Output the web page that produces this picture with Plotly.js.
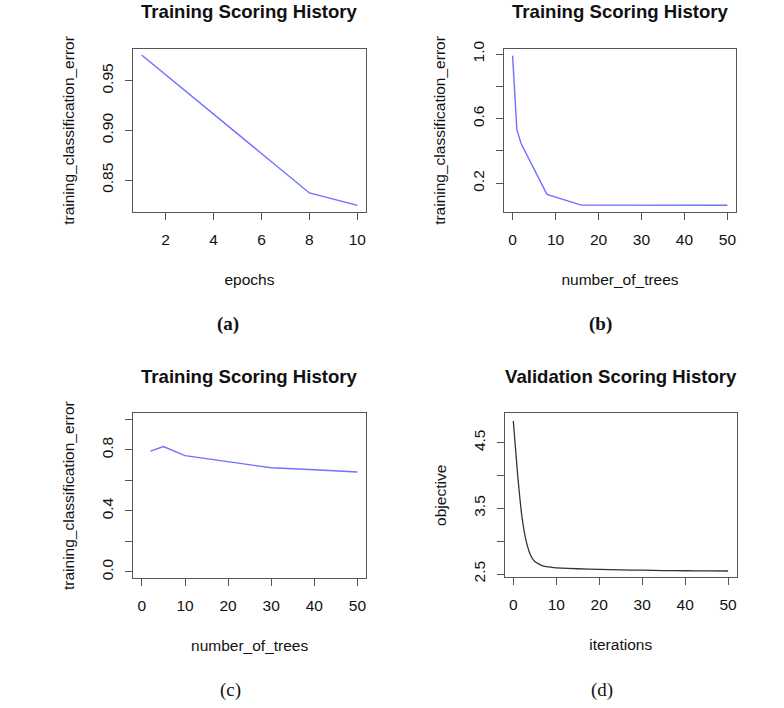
<!DOCTYPE html>
<html>
<head>
<meta charset="utf-8">
<script src="https://cdn.plot.ly/plotly-3.0.1.min.js"></script>
<style>html,body{margin:0;padding:0;background:#fff;}#chart{width:784px;height:708px;}</style>
</head>
<body>
<div id="chart"></div>
<script>
// (a) deep learning: epochs vs training classification error
const epochsA = [1, 8, 10];
const errorA = [0.976, 0.837, 0.8245];
// (b) number of trees vs training classification error
const treesB = [0, 1, 2, 8, 16, 50];
const errorB = [0.99, 0.53, 0.445, 0.132, 0.065, 0.064];
// (c) number of trees vs training classification error
const treesC = [2, 5, 10, 20, 30, 40, 50];
const errorC = [0.792, 0.822, 0.762, 0.722, 0.683, 0.670, 0.655];
// (d) iterations vs validation objective
const iterD = [0, 1, 2, 3, 4, 5, 6, 7, 8, 9, 10, 15, 20, 25, 30, 35, 40, 45, 50];
const objD = [4.83, 4.02, 3.38, 3.00, 2.79, 2.69, 2.65, 2.62, 2.61, 2.60, 2.595, 2.58, 2.57, 2.562, 2.558, 2.553, 2.55, 2.548, 2.546];

const titlesTop = ['Training Scoring History', 'Training Scoring History', 'Training Scoring History', 'Validation Scoring History'];
const xTitles = ['epochs', 'number_of_trees', 'number_of_trees', 'iterations'];
const yTitles = ['training_classification_error', 'training_classification_error', 'training_classification_error', 'objective'];
const captions = ['(a)', '(b)', '(c)', '(d)'];

const xTicksA = [2, 4, 6, 8, 10];
const xTicksTrees = [0, 10, 20, 30, 40, 50];
const yTicksA = [0.85, 0.90, 0.95];
const yTextA = ['0.85', '0.90', '0.95'];
const yTicksB = [0.2, 0.4, 0.6, 0.8, 1.0];
const yTextB = ['0.2', '', '0.6', '', '1.0'];
const yTicksC = [0.0, 0.2, 0.4, 0.6, 0.8, 1.0];
const yTextC = ['0.0', '', '0.4', '', '0.8', ''];
const yTicksD = [2.5, 3.0, 3.5, 4.0, 4.5];
const yTextD = ['2.5', '', '3.5', '', '4.5'];

const W = 784, H = 708;
const boxes = [
  {x0: 133, x1: 366, y0: 49, y1: 212},
  {x0: 504, x1: 736, y0: 49, y1: 212},
  {x0: 133.3, x1: 366, y0: 413.3, y1: 578},
  {x0: 504.7, x1: 736.7, y0: 413.3, y1: 577.3}
];
const blue = '#7070ff';
const traces = [
  {x: epochsA, y: errorA, xaxis: 'x', yaxis: 'y', mode: 'lines', line: {color: blue, width: 1.4}},
  {x: treesB, y: errorB, xaxis: 'x2', yaxis: 'y2', mode: 'lines', line: {color: blue, width: 1.4}},
  {x: treesC, y: errorC, xaxis: 'x3', yaxis: 'y3', mode: 'lines', line: {color: blue, width: 1.4}},
  {x: iterD, y: objD, xaxis: 'x4', yaxis: 'y4', mode: 'lines', line: {color: '#333', width: 1.3, shape: 'spline', smoothing: 0.6}}
];

const fontFam = 'Liberation Sans, Arial, sans-serif';
const axisCommon = {
  showline: true, mirror: true, linecolor: '#555', linewidth: 1,
  ticks: 'outside', ticklen: 7, tickcolor: '#555', tickwidth: 1,
  ticklabelstandoff: 6,
  showgrid: false, zeroline: false, tickfont: {family: fontFam, size: 15.5, color: '#111'},
  fixedrange: true
};
const xRanges = [[0.64, 10.36], [-2, 52], [-2, 52], [-2, 52]];
const yRanges = [[0.8178, 0.982], [0.0225, 1.031], [-0.04, 1.04], [2.45, 4.947]];
const xTickSets = [xTicksA, xTicksTrees, xTicksTrees, xTicksTrees];
const yTickSets = [[yTicksA, yTextA], [yTicksB, yTextB], [yTicksC, yTextC], [yTicksD, yTextD]];

const layout = {
  width: W, height: H, margin: {l: 0, r: 0, t: 0, b: 0},
  paper_bgcolor: '#fff', plot_bgcolor: '#fff', showlegend: false,
  font: {family: fontFam, color: '#111'},
  annotations: []
};
boxes.forEach((b, i) => {
  const s = i === 0 ? '' : String(i + 1);
  layout['xaxis' + s] = Object.assign({}, axisCommon, {
    domain: [b.x0 / W, b.x1 / W], anchor: 'y' + s, range: xRanges[i],
    tickmode: 'array', tickvals: xTickSets[i],
    title: {text: xTitles[i], font: {family: fontFam, size: 15.5, color: '#111'}, standoff: 27}
  });
  layout['yaxis' + s] = Object.assign({}, axisCommon, {
    domain: [1 - b.y1 / H, 1 - b.y0 / H], anchor: 'x' + s, range: yRanges[i],
    tickmode: 'array', tickvals: yTickSets[i][0], ticktext: yTickSets[i][1], tickangle: -90,
    title: {text: yTitles[i], font: {family: fontFam, size: 15.5, color: '#111'}, standoff: 20}
  });
  layout.annotations.push({
    text: '<b>' + titlesTop[i] + '</b>', xref: 'paper', yref: 'paper',
    x: (b.x0 + b.x1) / 2 / W, y: 1 - (i < 2 ? 12 : 376.7) / H,
    xanchor: 'center', yanchor: 'middle', showarrow: false,
    font: {family: fontFam, size: 18.6, color: '#111'}
  });
});
const capPos = [[228, 324, true], [600, 324, true], [230, 690, false], [602, 690, false]];
capPos.forEach((c, i) => {
  layout.annotations.push({
    text: c[2] ? '<b>' + captions[i] + '</b>' : captions[i], xref: 'paper', yref: 'paper',
    x: c[0] / W, y: 1 - c[1] / H, xanchor: 'center', yanchor: 'middle', showarrow: false,
    font: {family: 'Liberation Serif, DejaVu Serif, serif', size: 19, color: '#111'}
  });
});

Plotly.newPlot('chart', traces, layout, {displayModeBar: false, staticPlot: true});
</script>
</body>
</html>
